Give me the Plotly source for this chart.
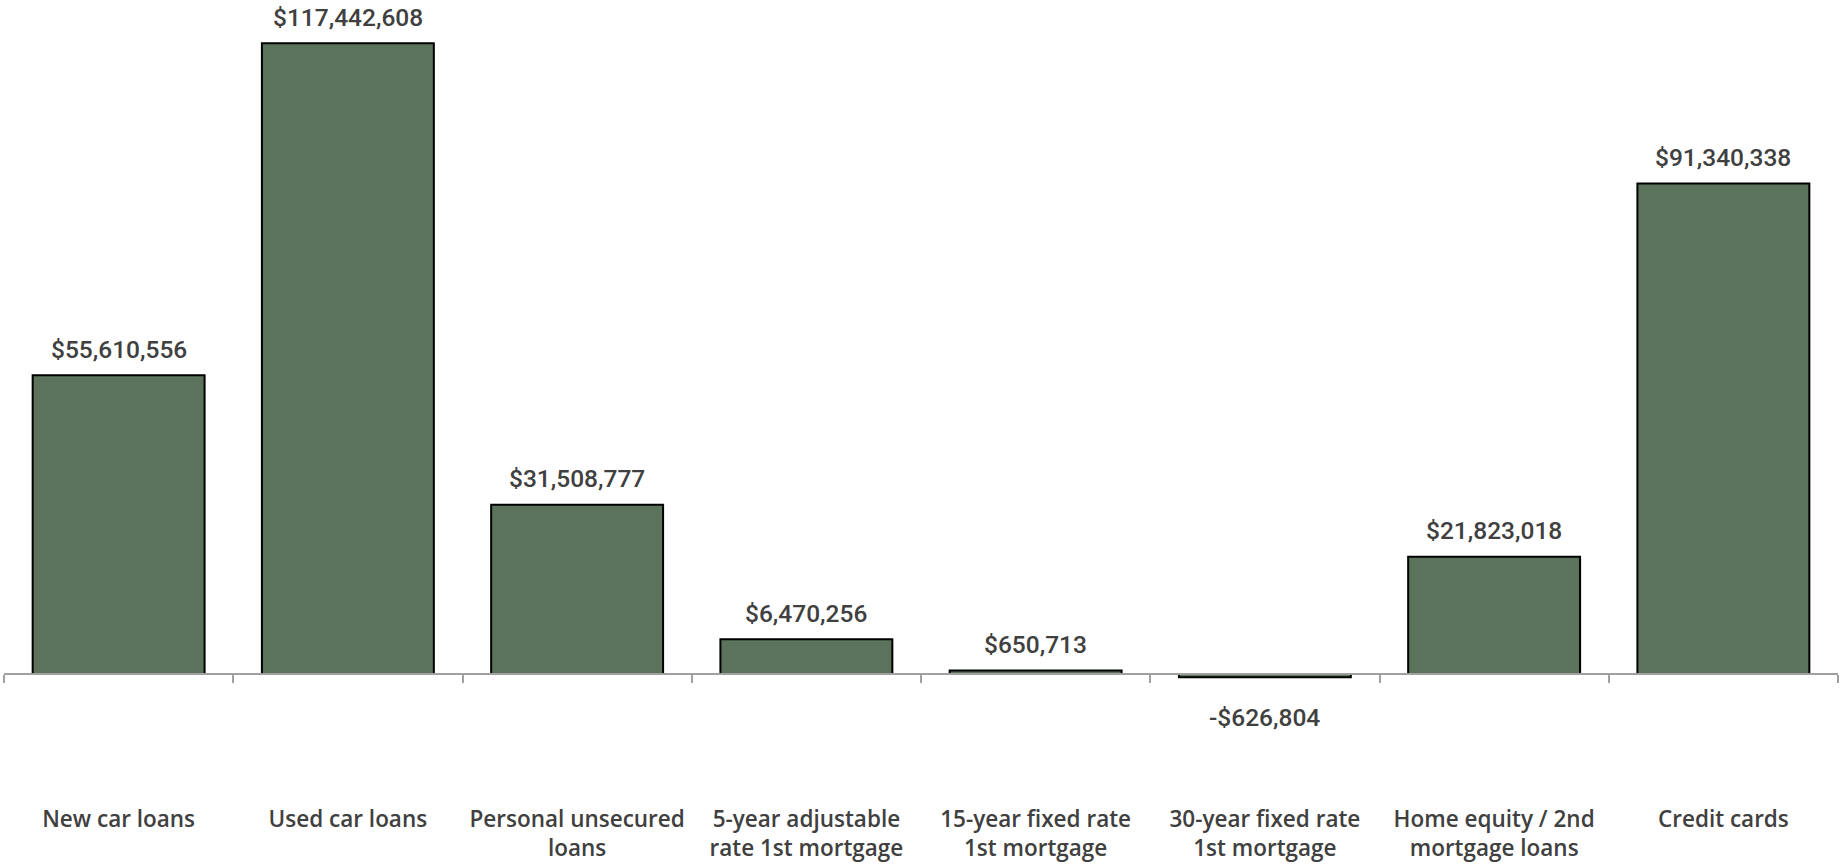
import plotly.graph_objects as go

categories = [
    "New car loans",
    "Used car loans",
    "Personal unsecured<br>loans",
    "5-year adjustable<br>rate 1st mortgage",
    "15-year fixed rate<br>1st mortgage",
    "30-year fixed rate<br>1st mortgage",
    "Home equity / 2nd<br>mortgage loans",
    "Credit cards",
]
values = [55610556, 117442608, 31508777, 6470256, 650713, -626804, 21823018, 91340338]
value_labels = ["$55,610,556", "$117,442,608", "$31,508,777", "$6,470,256",
                "$650,713", "-$626,804", "$21,823,018", "$91,340,338"]

W, H = 1839, 865
zero_px = 674.0      # pixel row of the zero line
top_px = 43.3        # pixel row of the tallest bar top
per_px = max(values) / (zero_px - top_px)
y_top = zero_px * per_px
y_bot = -(H - zero_px) * per_px

fig = go.Figure()
fig.add_trace(go.Bar(
    x=categories, y=values,
    marker=dict(color="#5B735A", line=dict(color="#000000", width=2)),
    hoverinfo="skip",
))

for c, v, t in zip(categories, values, value_labels):
    fig.add_annotation(
        x=c, y=v, text=t, showarrow=False,
        yanchor="middle", xanchor="center",
        yshift=26 if v >= 0 else -40,
        font=dict(family="Roboto", size=24.5, color="#404040", weight=500),
    )

fig.update_layout(
    width=W, height=H,
    margin=dict(l=4, r=1, t=0, b=0),
    paper_bgcolor="white", plot_bgcolor="white",
    bargap=0.25,
    showlegend=False,
    xaxis=dict(
        type="category",
        anchor="free", position=(H - zero_px) / H,
        showline=True, linecolor="#A0A0A0", linewidth=2,
        ticks="outside", tickson="boundaries", ticklen=8,
        tickcolor="#A0A0A0", tickwidth=2,
        tickangle=0, automargin=False,
        ticklabelstandoff=125,
        tickfont=dict(family="Open Sans", size=22.5, color="#404040", weight=600),
        showgrid=False, zeroline=False,
    ),
    yaxis=dict(visible=False, range=[y_bot, y_top], showgrid=False, zeroline=False,
               automargin=False),
)

fig.write_html("out.html")
